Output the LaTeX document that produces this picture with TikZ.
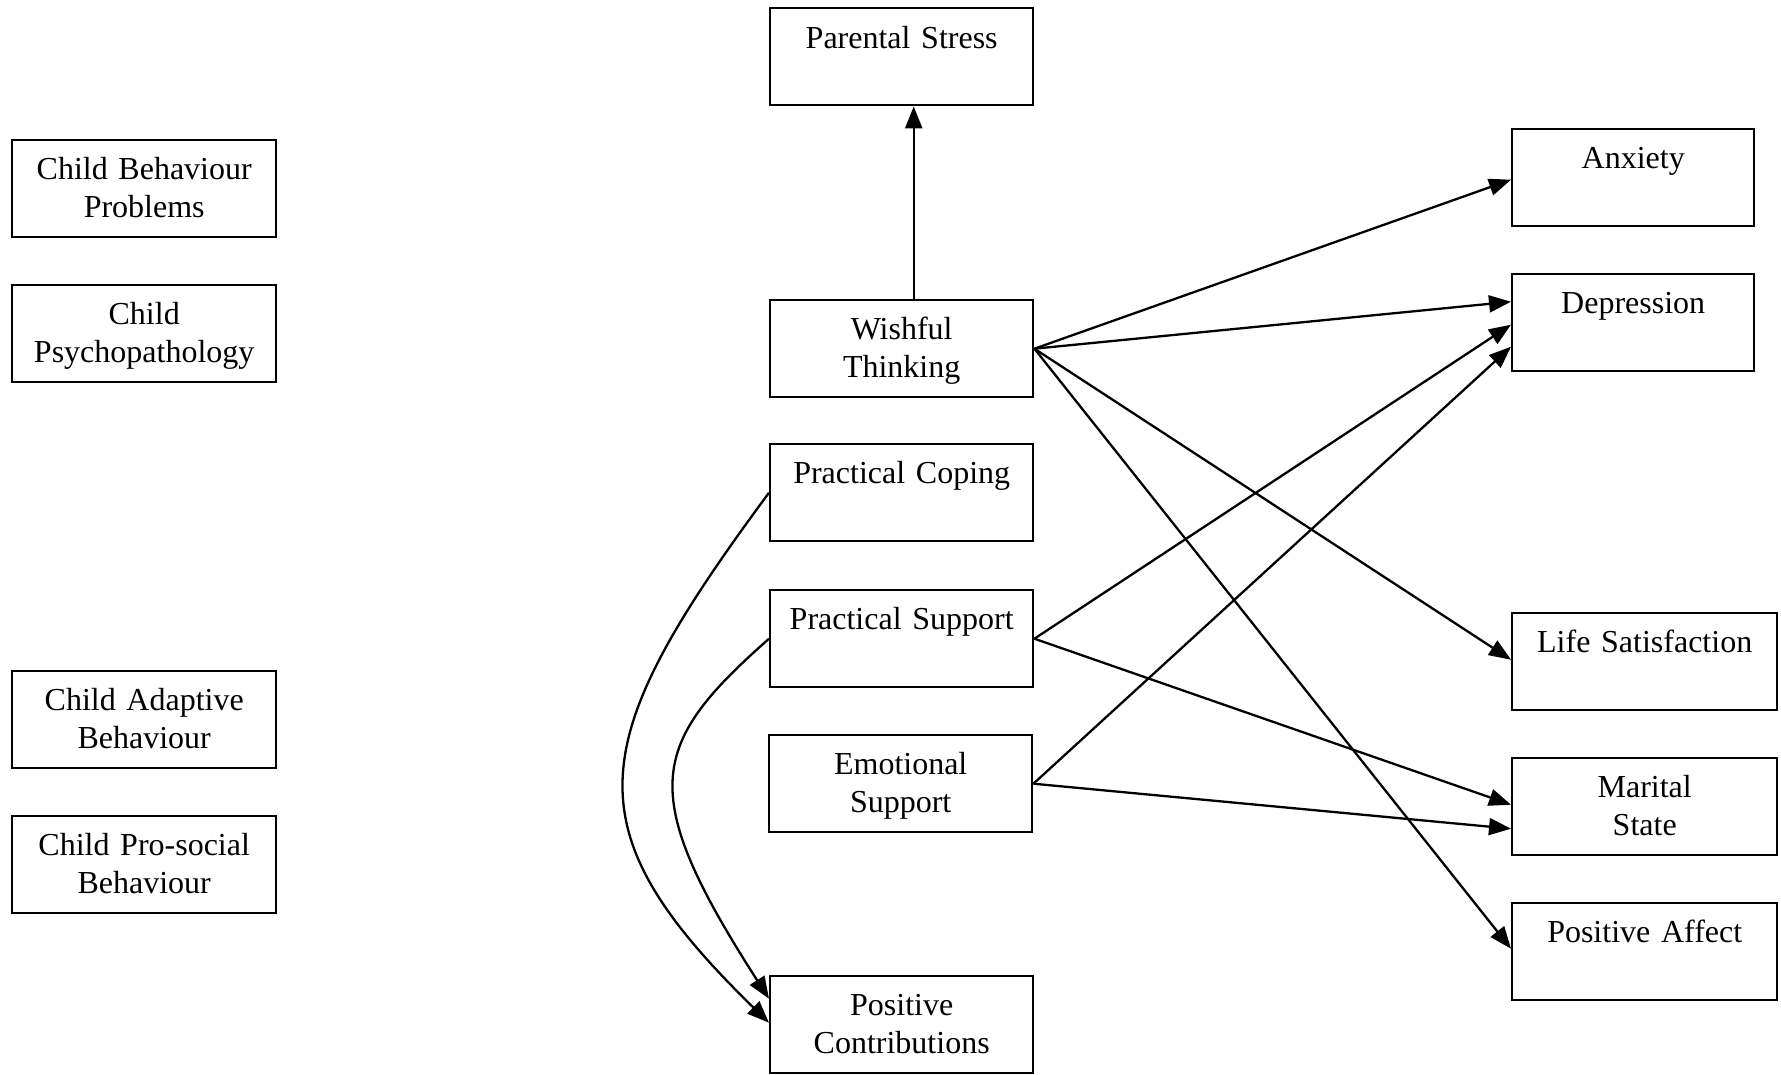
\documentclass[tikz,border=0pt]{standalone}
\usepackage{fontspec}
\setmainfont{Liberation Serif}
\usetikzlibrary{arrows.meta,calc}
\begin{document}
\begin{tikzpicture}[x=1pt,y=-1pt,
  box/.style={draw, line width=2.4pt, inner sep=0pt, anchor=north west,
              minimum height=97pt, minimum width=#1},
  lbl/.style={anchor=base, inner sep=0pt, align=center, text width=250pt,
              font=\fontsize{32}{38}\selectfont},
  link/.style={line width=2.3pt, -{Triangle[length=22pt,width=17pt]}},
]
\useasboundingbox (0,0) rectangle (1781,1074);

% left column
\node[box=264pt] (cbp) at (11,139) {};
\node[box=264pt] (cpp) at (11,284) {};
\node[box=264pt] (cab) at (11,670) {};
\node[box=264pt] (cpb) at (11,815) {};
\node[lbl] (cbp-l) at ($(cbp.north)+(0,40)$) {Child Behaviour\\Problems};
\node[lbl] (cpp-l) at ($(cpp.north)+(0,40)$) {Child\\Psychopathology};
\node[lbl] (cab-l) at ($(cab.north)+(0,40)$) {Child Adaptive\\Behaviour};
\node[lbl] (cpb-l) at ($(cpb.north)+(0,40)$) {Child Pro-social\\Behaviour};

% middle column
\node[box=263pt] (ps)   at (769,7)   {};
\node[box=263pt] (wt)   at (769,299) {};
\node[box=263pt] (pc)   at (769,443) {};
\node[box=263pt] (psup) at (769,589) {};
\node[box=263pt] (es)   at (768,734) {};
\node[box=263pt] (pcon) at (769,975) {};
\node[lbl] (ps-l)   at ($(ps.north)+(0,41)$)   {Parental Stress};
\node[lbl] (wt-l)   at ($(wt.north)+(0,40)$)   {Wishful\\Thinking};
\node[lbl] (pc-l)   at ($(pc.north)+(0,40)$)   {Practical Coping};
\node[lbl] (psup-l) at ($(psup.north)+(0,40)$) {Practical Support};
\node[lbl] (es-l)   at ($(es.north)+(0,40)$)   {Emotional\\Support};
\node[lbl] (pcon-l) at ($(pcon.north)+(0,40)$) {Positive\\Contributions};

% right column
\node[box=242pt] (anx) at (1511,128) {};
\node[box=242pt] (dep) at (1511,273) {};
\node[box=265pt] (ls)  at (1511,612) {};
\node[box=265pt] (ms)  at (1511,757) {};
\node[box=265pt] (pa)  at (1511,902) {};
\node[lbl] (anx-l) at ($(anx.north)+(0,40)$) {Anxiety};
\node[lbl] (dep-l) at ($(dep.north)+(0,40)$) {Depression};
\node[lbl] (ls-l)  at ($(ls.north)+(0,40)$)  {Life Satisfaction};
\node[lbl] (ms-l)  at ($(ms.north)+(0,40)$)  {Marital\\State};
\node[lbl] (pa-l)  at ($(pa.north)+(0,40)$)  {Positive Affect};

% paths
\draw[link] ($(wt.north)+(12,0)$) -- ($(ps.south)+(12,0)$);
\draw[link] (wt.east) -- ($(anx.west)+(0,2)$);
\draw[link] (wt.east) -- ($(dep.west)+(0,-21)$);
\draw[link] (wt.east) -- ($(ls.west)+(0,-2)$);
\draw[link] (wt.east) -- ($(pa.west)+(0,-3)$);
\draw[link] (psup.east) -- ($(dep.west)+(0,2)$);
\draw[link] (psup.east) -- ($(ms.west)+(0,-2)$);
\draw[link] (es.east) -- ($(dep.west)+(0,24)$);
\draw[link] (es.east) -- ($(ms.west)+(0,22)$);
\draw[link] (pc.west) .. controls +(-185,250) and +(-200,-195) .. ($(pcon.west)+(0,-2)$);
\draw[link] (psup.west) .. controls +(-120,106) and +(-133,-207) .. ($(pcon.west)+(0,-26)$);
\end{tikzpicture}
\end{document}
